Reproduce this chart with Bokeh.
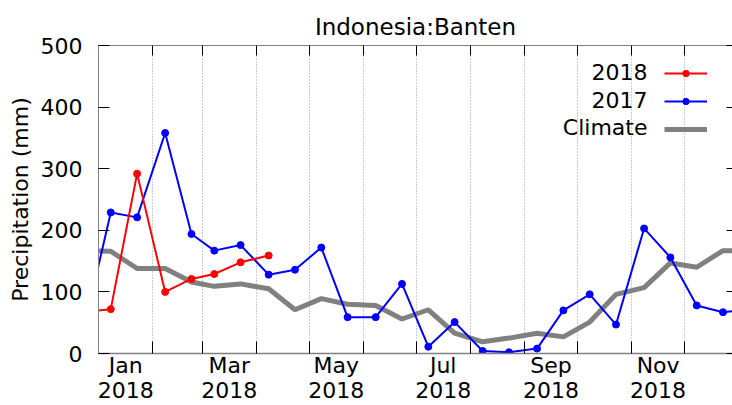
import pandas as pd
from bokeh.plotting import figure
from bokeh.models import (Range1d, FixedTicker, DatetimeAxis, LinearAxis,
                          Legend, LegendItem, ColumnDataSource, Grid, Label)
from bokeh.embed import file_html
from bokeh.resources import INLINE

# ---- data (half-month periods, plotted at their centres) ----
dates = ["2017-12-23",
         "2018-01-08", "2018-01-23", "2018-02-08", "2018-02-23",
         "2018-03-08", "2018-03-23", "2018-04-08", "2018-04-23",
         "2018-05-08", "2018-05-23", "2018-06-08", "2018-06-23",
         "2018-07-08", "2018-07-23", "2018-08-08", "2018-08-23",
         "2018-09-08", "2018-09-23", "2018-10-08", "2018-10-23",
         "2018-11-08", "2018-11-23", "2018-12-08", "2018-12-23",
         "2019-01-08"]
climate = [167, 166, 138, 138, 116, 109, 113, 105, 71, 89, 80, 78, 56,
           71, 33, 19, 25, 33, 27, 51, 96, 107, 147, 140, 167, 166]
prec_2017 = [32, 229, 221, 358, 194, 167, 176, 128, 136, 172, 59, 59, 113,
             11, 51, 4, 2, 8, 70, 96, 47, 203, 156, 78, 67, 72]
prec_2018 = [67, 72, 292, 100, 121, 129, 148, 159]

series_names = ["2018", "2017", "Climate"]
label_months = ["Jan", "Mar", "May", "Jul", "Sep", "Nov"]
label_year = "2018"
y_ticks = [0, 100, 200, 300, 400, 500]

FONT = "DejaVu Sans"
FS = "22px"

dt = pd.to_datetime(dates)
src_clim = ColumnDataSource(dict(x=dt, y=climate))
src_17 = ColumnDataSource(dict(x=dt, y=prec_2017))
src_18 = ColumnDataSource(dict(x=dt[:len(prec_2018)], y=prec_2018))

def ms(ts):
    return int(pd.Timestamp(ts).value // 10**6)

month_starts = pd.date_range("2018-01-01", "2019-01-01", freq="MS")
start_ms = [ms(t) for t in month_starts[:-1]]
label_pos = {}
for i, m in enumerate(month_starts[:-1]):
    name = m.strftime("%b")
    if name in label_months:
        mid = ms(m) + (ms(month_starts[i + 1]) - ms(m)) // 2
        label_pos[mid] = f"{name}\n{label_year}"

x0 = pd.Timestamp("2018-01-01")
x1 = x0 + pd.Timedelta(days=361.4)

p = figure(width=732, height=405, x_axis_type=None, y_axis_type=None,
           x_range=Range1d(x0, x1), y_range=Range1d(0, 500),
           output_backend="svg", toolbar_location=None,
           min_border_left=98, min_border_right=0,
           min_border_top=45, min_border_bottom=52,
           background_fill_color="white", border_fill_color="white")
p.outline_line_color = None

p.title.text = "Indonesia:Banten"
p.title.text_font = FONT
p.title.text_font_size = "23px"
p.title.text_font_style = "normal"
p.title.align = "center"
p.title.text_color = "black"
p.title.standoff = 12

AX_COL = "#808080"

# bottom axis: labels at mid-month, month-start ticks as minor ticks
xb = DatetimeAxis(ticker=FixedTicker(ticks=list(label_pos.keys()), minor_ticks=start_ms))
xb.major_label_overrides = label_pos
xb.major_tick_line_color = None
xb.minor_tick_in = 12
xb.minor_tick_out = 0
xb.minor_tick_line_color = "black"
xb.axis_line_color = AX_COL
xb.axis_line_width = 1.5
xb.major_label_text_font = FONT
xb.major_label_text_font_size = FS
xb.major_label_text_color = "black"
xb.major_label_text_line_height = 1.0
xb.major_label_standoff = -7
p.add_layout(xb, "below")

# top axis: ticks only
xt = DatetimeAxis(ticker=FixedTicker(ticks=start_ms))
xt.major_label_overrides = {t: "" for t in start_ms}
xt.major_tick_in = 10
xt.major_tick_out = 0
xt.major_tick_line_color = "black"
xt.minor_tick_line_color = None
xt.major_label_text_font_size = "0px"
xt.major_label_standoff = 0
xt.axis_line_color = AX_COL
p.add_layout(xt, "above")

# left axis
yl = LinearAxis(ticker=FixedTicker(ticks=y_ticks), axis_label="Precipitation (mm)")
yl.major_tick_in = 11
yl.major_tick_out = 0
yl.minor_tick_line_color = None
yl.major_tick_line_color = "black"
yl.axis_line_color = AX_COL
yl.major_label_text_font = FONT
yl.major_label_text_font_size = FS
yl.major_label_text_color = "black"
yl.major_label_standoff = 16
yl.axis_label_text_font = FONT
yl.axis_label_text_font_size = FS
yl.axis_label_text_font_style = "normal"
yl.axis_label_text_color = "black"
yl.axis_label_standoff = 5
p.add_layout(yl, "left")

# right axis: inward ticks only
yr = LinearAxis(ticker=FixedTicker(ticks=y_ticks))
yr.major_label_overrides = {t: "" for t in y_ticks}
yr.major_tick_in = 6
yr.major_tick_out = 0
yr.minor_tick_line_color = None
yr.major_tick_line_color = "black"
yr.axis_line_color = None
yr.major_label_text_font_size = "0px"
yr.major_label_standoff = 0
p.add_layout(yr, "right")

# vertical dotted grid at month starts
g = Grid(dimension=0, ticker=FixedTicker(ticks=start_ms),
         grid_line_color="#999999", grid_line_dash="1 2", grid_line_width=1)
p.add_layout(g)

r_c = p.line("x", "y", source=src_clim, line_color="#808080", line_width=5)
r_17l = p.line("x", "y", source=src_17, line_color="#0000ff", line_width=2)
r_17s = p.scatter("x", "y", source=src_17, size=7, color="#0000ff")
r_18l = p.line("x", "y", source=src_18, line_color="#ff0000", line_width=2)
r_18s = p.scatter("x", "y", source=src_18, size=7, color="#ff0000")

# legend: glyph samples (labels drawn to their left, gnuplot style)
legend = Legend(items=[LegendItem(label=" ", renderers=[r_18l, r_18s]),
                       LegendItem(label=" ", renderers=[r_17l, r_17s]),
                       LegendItem(label=" ", renderers=[r_c])],
                location=(566, 210), padding=0, margin=0, spacing=0,
                glyph_width=43, glyph_height=16, label_height=28,
                label_standoff=0, label_width=0,
                label_text_font=FONT, label_text_font_size=FS,
                border_line_color=None, background_fill_alpha=0)
p.add_layout(legend)

for i, name in enumerate(series_names):
    p.add_layout(Label(x=549, y=282 - 28 * i, x_units="screen", y_units="screen",
                       text=name, text_align="right", text_baseline="middle",
                       text_font=FONT, text_font_size=FS, text_color="black"))

open("out.html", "w").write(file_html(p, INLINE))
